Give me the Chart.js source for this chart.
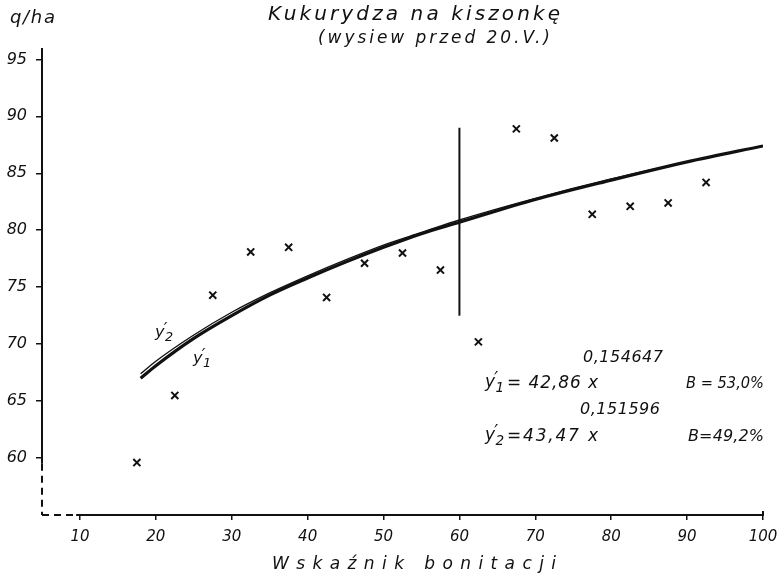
<!DOCTYPE html>
<html>
<head>
<meta charset="utf-8">
<script src="https://cdn.jsdelivr.net/npm/chart.js@4/dist/chart.umd.min.js"></script>
<style>
  html, body { margin: 0; padding: 0; background: #fff; }
  #wrap { width: 777px; height: 580px; position: relative; }
</style>
</head>
<body>
<div id="wrap"><canvas id="c" width="777" height="580"></canvas></div>
<script>
// ---- data ----
const xTicks = [10, 20, 30, 40, 50, 60, 70, 80, 90, 100];
const yTicks = [60, 65, 70, 75, 80, 85, 90, 95];
const obsX = [17.5, 22.5, 27.5, 32.5, 37.5, 42.5, 47.5, 52.5, 57.5, 62.5, 67.5, 72.5, 77.5, 82.5, 87.5, 92.5];
const obsY = [59.6, 65.5, 74.3, 78.1, 78.5, 74.1, 77.1, 78.0, 76.5, 70.2, 88.9, 88.1, 81.4, 82.1, 82.4, 84.2];
const curveX = [18, 20, 25, 30, 35, 40, 45, 50, 55, 60, 70, 80, 90, 100];
const y1Vals = [67.0, 68.1, 70.5, 72.5, 74.3, 75.8, 77.2, 78.5, 79.7, 80.7, 82.7, 84.4, 86.0, 87.4];
const y2Vals = [67.4, 68.5, 70.8, 72.8, 74.5, 76.0, 77.4, 78.7, 79.8, 80.9, 82.8, 84.5, 86.0, 87.4];
const cutX = [60, 60];
const cutY = [72.5, 89.0];

const titleText = "Kukurydza na kiszonkę";
const subtitleText = "(wysiew przed 20.V.)";
const xTitle = "Wskaźnik bonitacji";
const yUnit = "q/ha";
const eq1 = { coef: "= 42,86 x", exp: "0,154647", b: "B = 53,0%" };
const eq2 = { coef: "=43,47 x", exp: "0,151596", b: "B=49,2%" };

const FAM = "'DejaVu Sans', sans-serif";
const f = (size, w) => `italic ${w || 'normal'} ${size}px ${FAM}`;

// draw text so that it spans [left,right]: letter-spaced if short, squeezed if long
function fit(ctx, text, left, right, y, font) {
  ctx.save();
  ctx.font = font;
  ctx.letterSpacing = '0px';
  ctx.textAlign = 'left';
  ctx.textBaseline = 'middle';
  const w = ctx.measureText(text).width;
  const n = [...text].length;
  const target = right - left;
  if (w > target) {
    ctx.translate(left, y);
    ctx.scale(target / w, 1);
    ctx.fillText(text, 0, 0);
  } else {
    const sp = (target - w) / Math.max(1, n - 1);
    ctx.letterSpacing = sp + 'px';
    ctx.fillText(text, left, y);
  }
  ctx.restore();
}

function yPrime(ctx, x, y, sub, size) {
  ctx.save();
  ctx.textAlign = 'left';
  ctx.textBaseline = 'middle';
  ctx.font = f(size);
  ctx.fillText('y', x, y);
  ctx.fillText('′', x + size * 0.55, y - size * 0.2);
  ctx.font = f(size * 0.8);
  ctx.fillText(sub, x + size * 0.62, y + size * 0.32);
  ctx.restore();
}

const decor = {
  id: 'decor',
  beforeDatasetsDraw(chart) {
    const { ctx, scales: { x, y } } = chart;
    ctx.save();
    ctx.strokeStyle = '#111';
    ctx.lineWidth = 2;
    const ax = x.getPixelForValue(x.min);
    ctx.beginPath();
    ctx.moveTo(ax, y.getPixelForValue(y.max));
    ctx.lineTo(ax, y.getPixelForValue(59.5));
    ctx.stroke();
    ctx.setLineDash([7, 5]);
    ctx.beginPath();
    ctx.moveTo(ax, y.getPixelForValue(59.5));
    ctx.lineTo(ax, y.getPixelForValue(y.min));
    ctx.stroke();
    const by = y.getPixelForValue(y.min);
    ctx.beginPath();
    ctx.moveTo(ax, by);
    ctx.lineTo(x.getPixelForValue(9.5), by);
    ctx.stroke();
    ctx.setLineDash([]);
    ctx.beginPath();
    ctx.moveTo(x.getPixelForValue(9.5), by);
    ctx.lineTo(x.getPixelForValue(x.max), by);
    ctx.lineTo(x.getPixelForValue(x.max), by - 4);
    ctx.stroke();
    ctx.restore();
  },
  afterDraw(chart) {
    const { ctx } = chart;
    ctx.save();
    ctx.fillStyle = '#111';
    fit(ctx, titleText, 268, 560, 15, f(20));
    fit(ctx, subtitleText, 318, 550, 39, f(17));
    fit(ctx, yUnit, 10, 55, 18, f(18));
    fit(ctx, xTitle, 272, 556, 565, f(17));
    yPrime(ctx, 155, 333, '2', 16);
    yPrime(ctx, 193, 359, '1', 16);
    fit(ctx, eq1.exp, 583, 663, 358, f(16));
    yPrime(ctx, 485, 383, '1', 17);
    fit(ctx, eq1.coef, 507, 598, 384, f(17));
    fit(ctx, eq1.b, 686, 764, 384, f(16));
    fit(ctx, eq2.exp, 580, 660, 410, f(16));
    yPrime(ctx, 485, 436, '2', 17);
    fit(ctx, eq2.coef, 507, 598, 437, f(17));
    fit(ctx, eq2.b, 688, 764, 437, f(16));
    ctx.restore();
  }
};

const toXY = (xs, ys) => xs.map((v, i) => ({ x: v, y: ys[i] }));

new Chart(document.getElementById('c'), {
  type: 'scatter',
  data: {
    datasets: [
      {
        label: 'obs',
        data: toXY(obsX, obsY),
        pointStyle: 'crossRot',
        pointRadius: 5,
        borderColor: '#111',
        backgroundColor: '#111',
        borderWidth: 2
      },
      {
        label: "y'1",
        type: 'line',
        data: toXY(curveX, y1Vals),
        borderColor: '#111',
        borderWidth: 3.2,
        pointRadius: 0,
        cubicInterpolationMode: 'monotone',
        fill: false
      },
      {
        label: "y'2",
        type: 'line',
        data: toXY(curveX, y2Vals),
        borderColor: '#111',
        borderWidth: 1.4,
        pointRadius: 0,
        cubicInterpolationMode: 'monotone',
        fill: false
      },
      {
        label: 'cut',
        type: 'line',
        data: toXY(cutX, cutY),
        borderColor: '#111',
        borderWidth: 2,
        pointRadius: 0,
        fill: false
      }
    ]
  },
  options: {
    responsive: false,
    animation: false,
    layout: { padding: { top: 48, right: 14, left: 0, bottom: 0 } },
    plugins: { legend: { display: false }, tooltip: { enabled: false }, title: { display: false } },
    scales: {
      x: {
        type: 'linear',
        min: 5, max: 100,
        afterBuildTicks: s => { s.ticks = xTicks.map(v => ({ value: v })); },
        afterFit: s => { s.height = 65; s.paddingRight = 0; s.paddingLeft = 0; },
        border: { display: false },
        grid: { drawOnChartArea: false, drawTicks: true, tickLength: 5, color: '#111', lineWidth: 1.5 },
        ticks: { color: '#111', padding: 8, maxRotation: 0, autoSkip: false, font: { family: FAM, style: 'italic', size: 15 } }
      },
      y: {
        type: 'linear',
        min: 55, max: 96,
        afterBuildTicks: s => { s.ticks = yTicks.map(v => ({ value: v })); },
        afterFit: s => { s.width = 42; s.paddingTop = 0; s.paddingBottom = 0; },
        border: { display: false },
        grid: { drawOnChartArea: false, drawTicks: true, tickLength: 6, color: '#111', lineWidth: 1.5 },
        ticks: { color: '#111', padding: 9, autoSkip: false, font: { family: FAM, style: 'italic', size: 16 } }
      }
    }
  },
  plugins: [decor]
});
</script>
</body>
</html>
